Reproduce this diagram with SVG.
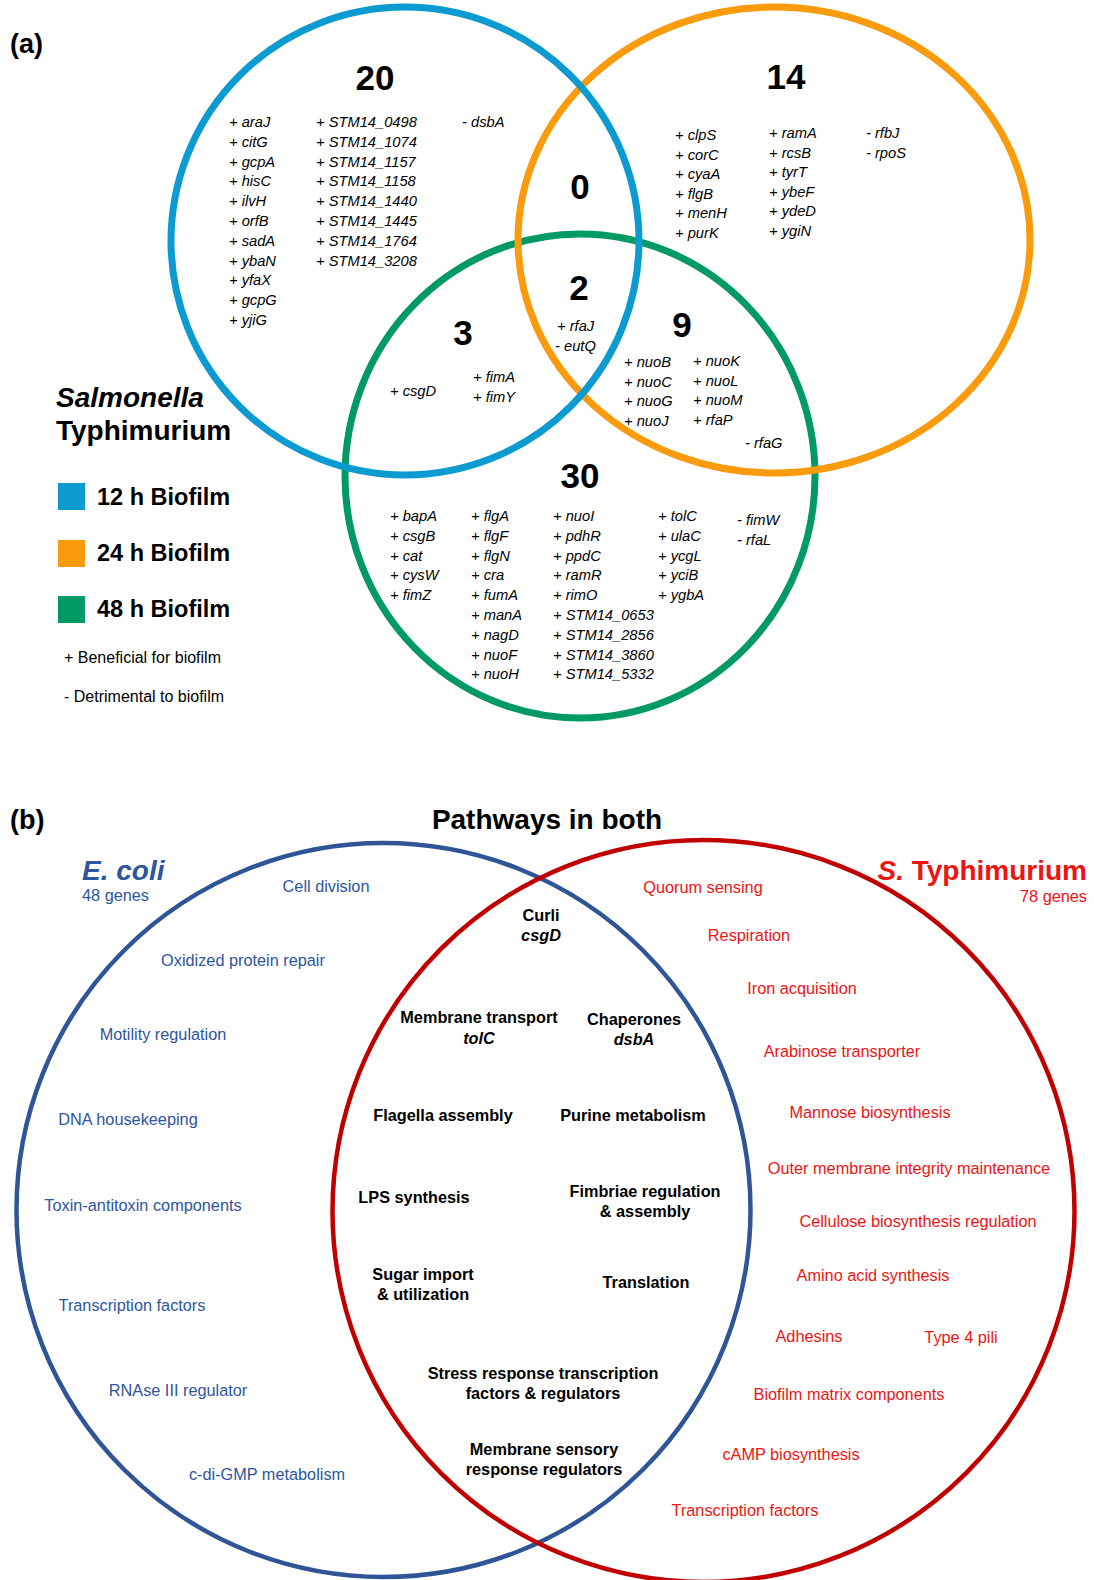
<svg xmlns="http://www.w3.org/2000/svg" width="1094" height="1580" viewBox="0 0 1094 1580">
<style>
text{font-family:"Liberation Sans",Arial,sans-serif;fill:#000}
.lbl{font-size:27px;font-weight:bold}
.num{font-size:35px;font-weight:bold;text-anchor:middle}
.gene{font-size:14.7px;font-style:italic}
.leg{font-size:23.5px;font-weight:bold}
.note{font-size:16px}
.ca{fill:none;stroke-width:7}
.cb{fill:none;stroke-width:4.5}
.bl{font-size:16.3px;fill:#2E55A0;text-anchor:middle}
.rd{font-size:16.3px;fill:#EE1414;text-anchor:middle}
.bk{font-size:16.3px;font-weight:bold;text-anchor:middle}
</style>
<rect width="1094" height="1580" fill="#fff"/>
<text class="lbl" x="10" y="53">(a)</text>

<g id="set-48h">
<ellipse class="ca" cx="580" cy="476" rx="235" ry="242" stroke="#009A62"/>
</g>
<g id="set-24h">
<ellipse class="ca" cx="774" cy="240" rx="256" ry="233" stroke="#F99B0C"/>
</g>
<g id="set-12h">
<circle class="ca" cx="405" cy="241" r="234" stroke="#0B9BD1"/>
</g>

<g id="region-12h-only">
<text class="num" x="375" y="90">20</text>
<text class="gene" x="229" y="127"><tspan x="229">+ araJ</tspan><tspan x="229" dy="19.8">+ citG</tspan><tspan x="229" dy="19.8">+ gcpA</tspan><tspan x="229" dy="19.8">+ hisC</tspan><tspan x="229" dy="19.8">+ ilvH</tspan><tspan x="229" dy="19.8">+ orfB</tspan><tspan x="229" dy="19.8">+ sadA</tspan><tspan x="229" dy="19.8">+ ybaN</tspan><tspan x="229" dy="19.8">+ yfaX</tspan><tspan x="229" dy="19.8">+ gcpG</tspan><tspan x="229" dy="19.8">+ yjiG</tspan></text>
<text class="gene" x="316" y="127"><tspan x="316">+ STM14_0498</tspan><tspan x="316" dy="19.8">+ STM14_1074</tspan><tspan x="316" dy="19.8">+ STM14_1157</tspan><tspan x="316" dy="19.8">+ STM14_1158</tspan><tspan x="316" dy="19.8">+ STM14_1440</tspan><tspan x="316" dy="19.8">+ STM14_1445</tspan><tspan x="316" dy="19.8">+ STM14_1764</tspan><tspan x="316" dy="19.8">+ STM14_3208</tspan></text>
<text class="gene" x="462" y="127">- dsbA</text>
</g>

<g id="region-24h-only">
<text class="num" x="786" y="89">14</text>
<text class="gene" x="675" y="140"><tspan x="675">+ clpS</tspan><tspan x="675" dy="19.6">+ corC</tspan><tspan x="675" dy="19.6">+ cyaA</tspan><tspan x="675" dy="19.6">+ flgB</tspan><tspan x="675" dy="19.6">+ menH</tspan><tspan x="675" dy="19.6">+ purK</tspan></text>
<text class="gene" x="769" y="138"><tspan x="769">+ ramA</tspan><tspan x="769" dy="19.6">+ rcsB</tspan><tspan x="769" dy="19.6">+ tyrT</tspan><tspan x="769" dy="19.6">+ ybeF</tspan><tspan x="769" dy="19.6">+ ydeD</tspan><tspan x="769" dy="19.6">+ ygiN</tspan></text>
<text class="gene" x="866" y="138"><tspan x="866">- rfbJ</tspan><tspan x="866" dy="19.6">- rpoS</tspan></text>
</g>

<g id="region-12h-24h">
<text class="num" x="580" y="199">0</text>
</g>

<g id="region-all">
<text class="num" x="579" y="300">2</text>
<text class="gene" x="557" y="331">+ rfaJ</text>
<text class="gene" x="555" y="351">- eutQ</text>
</g>

<g id="region-12h-48h">
<text class="num" x="463" y="345">3</text>
<text class="gene" x="390" y="396">+ csgD</text>
<text class="gene" x="473" y="382"><tspan x="473">+ fimA</tspan><tspan x="473" dy="19.8">+ fimY</tspan></text>
</g>

<g id="region-24h-48h">
<text class="num" x="682" y="337">9</text>
<text class="gene" x="624" y="367"><tspan x="624">+ nuoB</tspan><tspan x="624" dy="19.7">+ nuoC</tspan><tspan x="624" dy="19.7">+ nuoG</tspan><tspan x="624" dy="19.7">+ nuoJ</tspan></text>
<text class="gene" x="693" y="366"><tspan x="693">+ nuoK</tspan><tspan x="693" dy="19.7">+ nuoL</tspan><tspan x="693" dy="19.7">+ nuoM</tspan><tspan x="693" dy="19.7">+ rfaP</tspan></text>
<text class="gene" x="745" y="448">- rfaG</text>
</g>

<g id="region-48h-only">
<text class="num" x="580" y="488">30</text>
<text class="gene" x="390" y="521"><tspan x="390">+ bapA</tspan><tspan x="390" dy="19.8">+ csgB</tspan><tspan x="390" dy="19.8">+ cat</tspan><tspan x="390" dy="19.8">+ cysW</tspan><tspan x="390" dy="19.8">+ fimZ</tspan></text>
<text class="gene" x="471" y="521"><tspan x="471">+ flgA</tspan><tspan x="471" dy="19.8">+ flgF</tspan><tspan x="471" dy="19.8">+ flgN</tspan><tspan x="471" dy="19.8">+ cra</tspan><tspan x="471" dy="19.8">+ fumA</tspan><tspan x="471" dy="19.8">+ manA</tspan><tspan x="471" dy="19.8">+ nagD</tspan><tspan x="471" dy="19.8">+ nuoF</tspan><tspan x="471" dy="19.8">+ nuoH</tspan></text>
<text class="gene" x="553" y="521"><tspan x="553">+ nuoI</tspan><tspan x="553" dy="19.8">+ pdhR</tspan><tspan x="553" dy="19.8">+ ppdC</tspan><tspan x="553" dy="19.8">+ ramR</tspan><tspan x="553" dy="19.8">+ rimO</tspan><tspan x="553" dy="19.8">+ STM14_0653</tspan><tspan x="553" dy="19.8">+ STM14_2856</tspan><tspan x="553" dy="19.8">+ STM14_3860</tspan><tspan x="553" dy="19.8">+ STM14_5332</tspan></text>
<text class="gene" x="658" y="521"><tspan x="658">+ tolC</tspan><tspan x="658" dy="19.8">+ ulaC</tspan><tspan x="658" dy="19.8">+ ycgL</tspan><tspan x="658" dy="19.8">+ yciB</tspan><tspan x="658" dy="19.8">+ ygbA</tspan></text>
<text class="gene" x="737" y="525"><tspan x="737">- fimW</tspan><tspan x="737" dy="20">- rfaL</tspan></text>
</g>

<g id="legend-a">
<text x="56" y="407" style="font-size:28px;font-weight:bold;font-style:italic">Salmonella</text>
<text x="56" y="440" style="font-size:28px;font-weight:bold">Typhimurium</text>
<rect x="58" y="483" width="27" height="27" fill="#0B9BD1"/>
<text class="leg" x="97" y="505">12 h Biofilm</text>
<rect x="58" y="540" width="27" height="27" fill="#F99B0C"/>
<text class="leg" x="97" y="561">24 h Biofilm</text>
<rect x="58" y="596" width="27" height="27" fill="#009A62"/>
<text class="leg" x="97" y="617">48 h Biofilm</text>
<text class="note" x="64" y="663">+ Beneficial for biofilm</text>
<text class="note" x="64" y="702">- Detrimental to biofilm</text>
</g>

<text class="lbl" x="10" y="829">(b)</text>
<text x="547" y="829" style="font-size:28px;font-weight:bold;text-anchor:middle">Pathways in both</text>

<g id="ecoli">
<circle class="cb" cx="383.5" cy="1210" r="367" stroke="#2F5597"/>
<text x="82" y="880" style="font-size:28px;font-weight:bold;font-style:italic;fill:#2E55A0">E. coli</text>
<text x="82" y="901" style="font-size:16.3px;fill:#2E55A0">48 genes</text>
<text class="bl" x="326" y="892">Cell division</text>
<text class="bl" x="243" y="966">Oxidized protein repair</text>
<text class="bl" x="163" y="1040">Motility regulation</text>
<text class="bl" x="128" y="1125">DNA housekeeping</text>
<text class="bl" x="143" y="1211">Toxin-antitoxin components</text>
<text class="bl" x="132" y="1311">Transcription factors</text>
<text class="bl" x="178" y="1396">RNAse III regulator</text>
<text class="bl" x="267" y="1480">c-di-GMP metabolism</text>
</g>

<g id="styphimurium">
<circle class="cb" cx="703.5" cy="1211" r="371" stroke="#C00000"/>
<text x="1087" y="880" style="font-size:28px;font-weight:bold;fill:#EE1414;text-anchor:end"><tspan style="font-style:italic">S.</tspan> Typhimurium</text>
<text x="1087" y="902" style="font-size:16.3px;fill:#EE1414;text-anchor:end">78 genes</text>
<text class="rd" x="703" y="893">Quorum sensing</text>
<text class="rd" x="749" y="941">Respiration</text>
<text class="rd" x="802" y="994">Iron acquisition</text>
<text class="rd" x="842" y="1057">Arabinose transporter</text>
<text class="rd" x="870" y="1118">Mannose biosynthesis</text>
<text class="rd" x="909" y="1174">Outer membrane integrity maintenance</text>
<text class="rd" x="918" y="1227">Cellulose biosynthesis regulation</text>
<text class="rd" x="873" y="1281">Amino acid synthesis</text>
<text class="rd" x="809" y="1342">Adhesins</text>
<text class="rd" x="961" y="1343">Type 4 pili</text>
<text class="rd" x="849" y="1400">Biofilm matrix components</text>
<text class="rd" x="791" y="1460">cAMP biosynthesis</text>
<text class="rd" x="745" y="1516">Transcription factors</text>
</g>

<g id="shared">
<text class="bk" x="541" y="921">Curli</text>
<text class="bk" x="541" y="941" font-style="italic">csgD</text>
<text class="bk" x="479" y="1023">Membrane transport</text>
<text class="bk" x="479" y="1044" font-style="italic">tolC</text>
<text class="bk" x="634" y="1025">Chaperones</text>
<text class="bk" x="634" y="1045" font-style="italic">dsbA</text>
<text class="bk" x="443" y="1121">Flagella assembly</text>
<text class="bk" x="633" y="1121">Purine metabolism</text>
<text class="bk" x="414" y="1203">LPS synthesis</text>
<text class="bk" x="645" y="1197">Fimbriae regulation</text>
<text class="bk" x="645" y="1217">&amp; assembly</text>
<text class="bk" x="423" y="1280">Sugar import</text>
<text class="bk" x="423" y="1300">&amp; utilization</text>
<text class="bk" x="646" y="1288">Translation</text>
<text class="bk" x="543" y="1379">Stress response transcription</text>
<text class="bk" x="543" y="1399">factors &amp; regulators</text>
<text class="bk" x="544" y="1455">Membrane sensory</text>
<text class="bk" x="544" y="1475">response regulators</text>
</g>
</svg>
